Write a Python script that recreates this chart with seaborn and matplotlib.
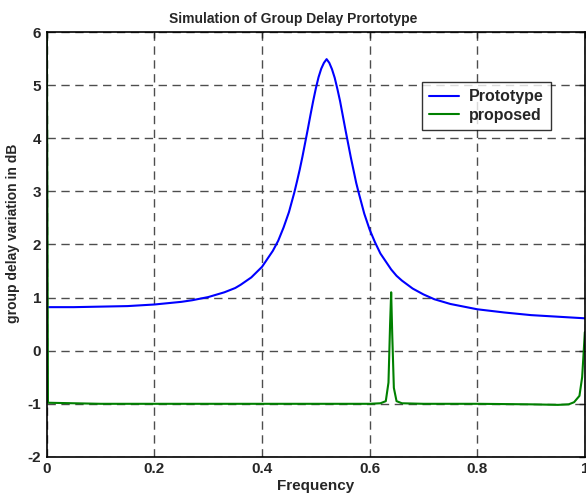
import matplotlib
matplotlib.use("Agg")
import matplotlib.pyplot as plt
import seaborn as sns
import pandas as pd

# Prototype (blue) readings
proto_x = [0.0, 0.05, 0.1, 0.15, 0.2, 0.25, 0.27, 0.3, 0.33, 0.35, 0.36, 0.38, 0.4, 0.42,
           0.43, 0.44, 0.45, 0.46, 0.465, 0.47, 0.475, 0.48, 0.485, 0.49, 0.495, 0.5,
           0.505, 0.51, 0.515, 0.52, 0.525, 0.53, 0.535, 0.54, 0.545, 0.55, 0.555, 0.56,
           0.565, 0.57, 0.575, 0.58, 0.59, 0.6, 0.61, 0.62, 0.64, 0.65, 0.66, 0.68, 0.7,
           0.72, 0.75, 0.775, 0.8, 0.85, 0.9, 0.95, 1.0]
proto_y = [0.82, 0.82, 0.83, 0.84, 0.87, 0.92, 0.95, 1.01, 1.10, 1.18, 1.24, 1.38, 1.58, 1.88,
           2.07, 2.32, 2.61, 2.98, 3.19, 3.41, 3.65, 3.91, 4.17, 4.44, 4.70, 4.94,
           5.15, 5.31, 5.42, 5.49, 5.42, 5.30, 5.14, 4.93, 4.70, 4.43, 4.16, 3.90,
           3.64, 3.40, 3.16, 2.96, 2.58, 2.28, 2.04, 1.83, 1.53, 1.41, 1.32, 1.17, 1.06,
           0.97, 0.88, 0.83, 0.78, 0.72, 0.67, 0.64, 0.61]

# Proposed (green) readings
prop_x = [0.0, 0.002, 0.1, 0.2, 0.3, 0.4, 0.5, 0.6, 0.62, 0.63, 0.635, 0.638, 0.64,
          0.642, 0.645, 0.65, 0.66, 0.7, 0.8, 0.9, 0.95, 0.97, 0.98, 0.99, 0.995,
          0.998, 1.0]
prop_y = [6.0, -0.98, -1.0, -1.0, -1.0, -1.0, -1.0, -1.0, -0.99, -0.95, -0.6, 0.5, 1.1,
          0.3, -0.7, -0.95, -0.99, -1.0, -1.0, -1.01, -1.02, -1.01, -0.97, -0.85, -0.5,
          0.0, 0.35]

x_ticks = [0, 0.2, 0.4, 0.6, 0.8, 1]
x_tick_labels = ["0", "0.2", "0.4", "0.6", "0.8", "1"]
y_ticks = [-2, -1, 0, 1, 2, 3, 4, 5, 6]
series_names = ["Prototype", "proposed"]

sns.set_style("white")
plt.rcParams["font.family"] = ["Liberation Sans", "DejaVu Sans"]
plt.rcParams["font.weight"] = "bold"
plt.rcParams["axes.unicode_minus"] = False

fig = plt.figure(figsize=(5.86, 5.01), dpi=100)
ax = fig.add_axes([0.080, 0.088, 0.918, 0.848])

df1 = pd.DataFrame({"x": proto_x, "y": proto_y})
df2 = pd.DataFrame({"x": prop_x, "y": prop_y})
sns.lineplot(data=df1, x="x", y="y", ax=ax, color="#0000FF", lw=1.5,
             estimator=None, sort=False, label=series_names[0])
sns.lineplot(data=df2, x="x", y="y", ax=ax, color="#008000", lw=1.5,
             estimator=None, sort=False, label=series_names[1])

ax.set_xlim(0, 1)
ax.set_ylim(-2, 6)
ax.set_xticks(x_ticks)
ax.set_xticklabels(x_tick_labels)
ax.set_yticks(y_ticks)
ax.tick_params(direction="in", length=4, width=1, labelsize=11, top=True, right=True, pad=4)
for lab in ax.get_xticklabels() + ax.get_yticklabels():
    lab.set_fontweight("bold")
ax.grid(True, linestyle=(0, (6, 4)), color="0.3", linewidth=1)
for s in ax.spines.values():
    s.set_color("black")
    s.set_linewidth(1.2)

ax.set_xlabel("Frequency", fontsize=11, fontweight="bold", labelpad=2)
ax.set_ylabel("group delay variation in dB", fontsize=10, fontweight="bold")
ax.yaxis.set_label_coords(-0.050, 0.527)
fig.text(0.5, 0.955, "Simulation of Group Delay Prortotype", fontsize=10,
         fontweight="bold", ha="center", va="baseline")

leg = ax.legend(loc="upper left", bbox_to_anchor=(0.697, 0.882), fontsize=11.5,
                frameon=True, fancybox=False, edgecolor="black", borderpad=0.45,
                handlelength=1.9, handletextpad=0.6, labelspacing=0.2, borderaxespad=0)
leg.get_frame().set_linewidth(1)
for t in leg.get_texts():
    t.set_fontweight("bold")

fig.savefig("out.png", dpi=100)
